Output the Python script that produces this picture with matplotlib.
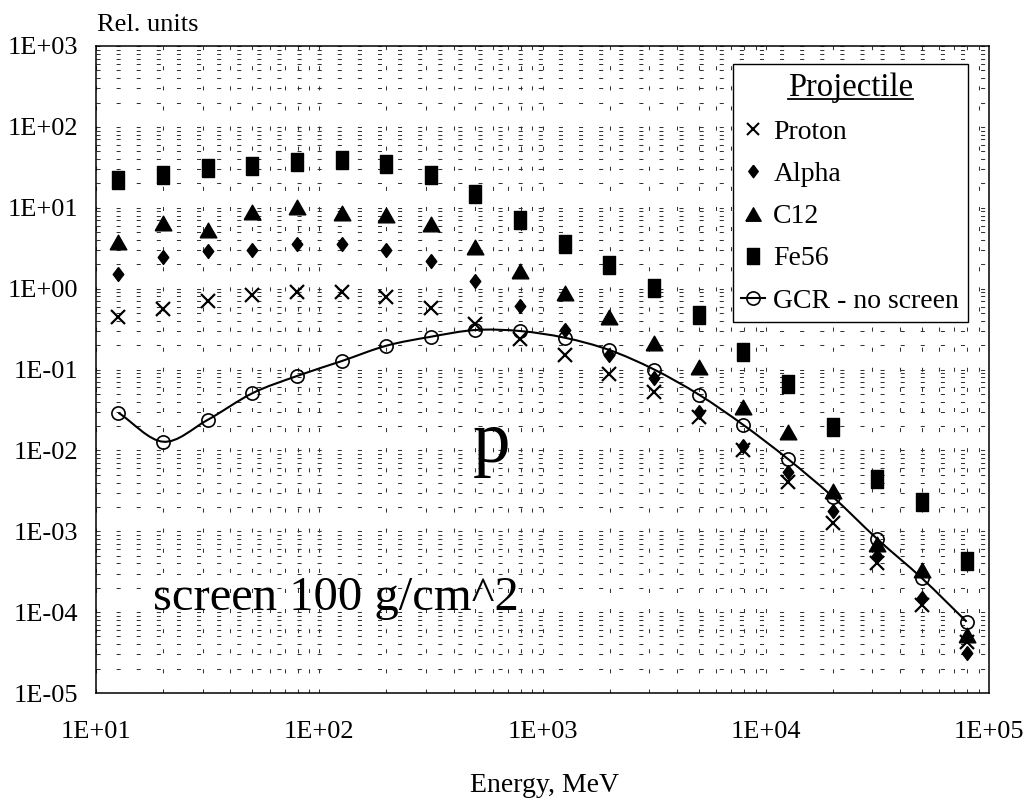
import numpy as np
import matplotlib
matplotlib.use("Agg")
import matplotlib.pyplot as plt
from matplotlib.path import Path
from matplotlib.patches import PathPatch
from matplotlib.lines import Line2D
from matplotlib.ticker import LogLocator, FixedLocator, FuncFormatter, NullFormatter

plt.rcParams['font.family'] = ['Liberation Serif', 'DejaVu Serif']

# Energy grid (MeV)
energy = [12.6, 20.0, 31.6, 50.1, 79.4, 126, 200, 316, 501, 794,
          1259, 1995, 3162, 5012, 7943, 12589, 19953, 31623, 50119, 79433]

# Relative yields behind a 100 g/cm^2 screen, by projectile
proton = [0.44, 0.555, 0.71, 0.83, 0.90, 0.90, 0.78, 0.57, 0.365, 0.236,
          0.151, 0.088, 0.052, 0.026, 0.0102, 0.0041, 0.00128, 0.00040, 0.000123, 0.000043]
alpha = [1.52, 2.48, 2.92, 3.0, 3.53, 3.53, 3.0, 2.2, 1.25, 0.61,
         0.308, 0.151, 0.078, 0.030, 0.0113, 0.0054, 0.00178, 0.000494, 0.000148, 0.000031]
c12 = [3.8, 6.5, 5.3, 8.9, 10.1, 8.7, 8.1, 6.3, 3.3, 1.67,
       0.875, 0.44, 0.21, 0.106, 0.0347, 0.017, 0.00318, 0.00070, 0.00033, 0.000052]
fe56 = [22, 25.4, 30.8, 33, 37, 39, 34.7, 25.4, 14.7, 7.06,
        3.53, 1.96, 1.01, 0.47, 0.166, 0.066, 0.0196, 0.00438, 0.00228, 0.00043]
gcr = [0.0292, 0.0128, 0.0238, 0.0508, 0.083, 0.127, 0.197, 0.254, 0.308, 0.299,
       0.247, 0.174, 0.100, 0.049, 0.0206, 0.0078, 0.00267, 0.00080, 0.000262, 0.000076]

series_labels = ["Proton", "Alpha", "C12", "Fe56", "GCR - no screen"]

fig = plt.figure(figsize=(10.28, 7.98), dpi=100)
ax = fig.add_axes([96 / 1028, 1 - 693 / 798, 893 / 1028, 647 / 798])

ax.set_xscale('log')
ax.set_yscale('log')
ax.set_xlim(1e1, 1e5)
ax.set_ylim(1e-5, 1e3)

# custom marker shapes
diamond = [(0, 0.5), (0.38, 0), (0, -0.5), (-0.38, 0), (0, 0.5)]
triangle = [(-0.5, -0.44), (0.5, -0.44), (0, 0.44), (-0.5, -0.44)]
rect = [(-0.36, -0.5), (0.36, -0.5), (0.36, 0.5), (-0.36, 0.5), (-0.36, -0.5)]

# smooth curve through the unscreened GCR spectrum (cubic Bezier in log space)
lx = np.log10(energy)
ly = np.log10(gcr)
pts = np.column_stack([lx, ly])
n = len(pts)
tang = np.zeros_like(pts)
tang[1:-1] = (pts[2:] - pts[:-2]) / 2
tang[0] = pts[1] - pts[0]
tang[-1] = pts[-1] - pts[-2]
verts = [pts[0]]
codes = [Path.MOVETO]
for i in range(n - 1):
    verts += [pts[i] + tang[i] / 3, pts[i + 1] - tang[i + 1] / 3, pts[i + 1]]
    codes += [Path.CURVE4] * 3
verts = 10 ** np.array(verts)
ax.add_patch(PathPatch(Path(verts, codes), fill=False, edgecolor='black', lw=1.5, zorder=3))

ax.plot(energy, proton, ls='none', marker='x', ms=9.5, mew=1.6, color='black', zorder=4)
ax.plot(energy, alpha, ls='none', marker=diamond, ms=10, color='black', zorder=4)
ax.plot(energy, c12, ls='none', marker=triangle, ms=12, color='black', zorder=4)
ax.plot(energy, fe56, ls='none', marker=rect, ms=12.5, color='black', zorder=4)
ax.plot(energy, gcr, ls='none', marker='o', ms=9.5, mfc='none', mec='black', mew=1.2, zorder=5)

# grid
ax.set_axisbelow(True)
ax.xaxis.set_major_locator(FixedLocator([1e1, 1e2, 1e3, 1e4, 1e5]))
ax.yaxis.set_major_locator(FixedLocator([10.0 ** e for e in range(-5, 4)]))
ax.xaxis.set_minor_locator(LogLocator(base=10, subs=range(2, 10), numticks=50))
ax.yaxis.set_minor_locator(LogLocator(base=10, subs=range(2, 10), numticks=50))
ax.xaxis.set_minor_formatter(NullFormatter())
ax.yaxis.set_minor_formatter(NullFormatter())
fmt = FuncFormatter(lambda v, p: "1E{:+03d}".format(int(round(np.log10(v)))))
ax.xaxis.set_major_formatter(fmt)
ax.yaxis.set_major_formatter(fmt)
ax.grid(True, which='both', ls=(0, (3.9, 15.4)), lw=0.75, color='#333333')
ax.tick_params(which='both', length=0)
ax.tick_params(axis='x', pad=20, labelsize=19)
ax.tick_params(axis='y', pad=13, labelsize=19)
for s in ax.spines.values():
    s.set_linewidth(1.1)
    s.set_color('black')

fig.text(97 / 1028, 1 - 31 / 798, "Rel. units", fontsize=19, va='baseline', ha='left')
fig.text(544 / 1028, 1 - 792 / 798, "Energy, MeV", fontsize=20, va='baseline', ha='center')

ax.text(0.422, 0.357, "p", transform=ax.transAxes, fontsize=54, va='baseline', ha='left')
ax.text(0.064, 0.128, "screen 100 g/cm^2", transform=ax.transAxes, fontsize=35,
        va='baseline', ha='left')

# legend
handles = [
    Line2D([], [], ls='none', marker='x', ms=8.5, mew=1.5, color='black'),
    Line2D([], [], ls='none', marker=diamond, ms=9, color='black'),
    Line2D([], [], ls='none', marker=triangle, ms=11, color='black'),
    Line2D([], [], ls='none', marker=rect, ms=11.5, color='black'),
    Line2D([], [], ls='-', lw=1.5, marker='o', ms=9.5, mfc='none', mec='black', mew=1.2, color='black'),
]
leg = ax.legend(handles, series_labels, loc='upper right', bbox_to_anchor=(0.976, 0.972),
                borderaxespad=0, fontsize=20, title="Projectile", title_fontsize=23.5,
                frameon=True, fancybox=False, edgecolor='black', framealpha=1,
                handlelength=0.85, handletextpad=0.3, labelspacing=0.6,
                borderpad=0.3, numpoints=1)
leg.get_frame().set_linewidth(1.0)

fig.canvas.draw()
tb = leg.get_title().get_window_extent(fig.canvas.get_renderer())
uy = tb.y0 + 4
fig.add_artist(Line2D([tb.x0 / 1028, tb.x1 / 1028], [uy / 798, uy / 798],
                      transform=fig.transFigure, color='black', lw=1.3))

fig.savefig("out.png", dpi=100)
